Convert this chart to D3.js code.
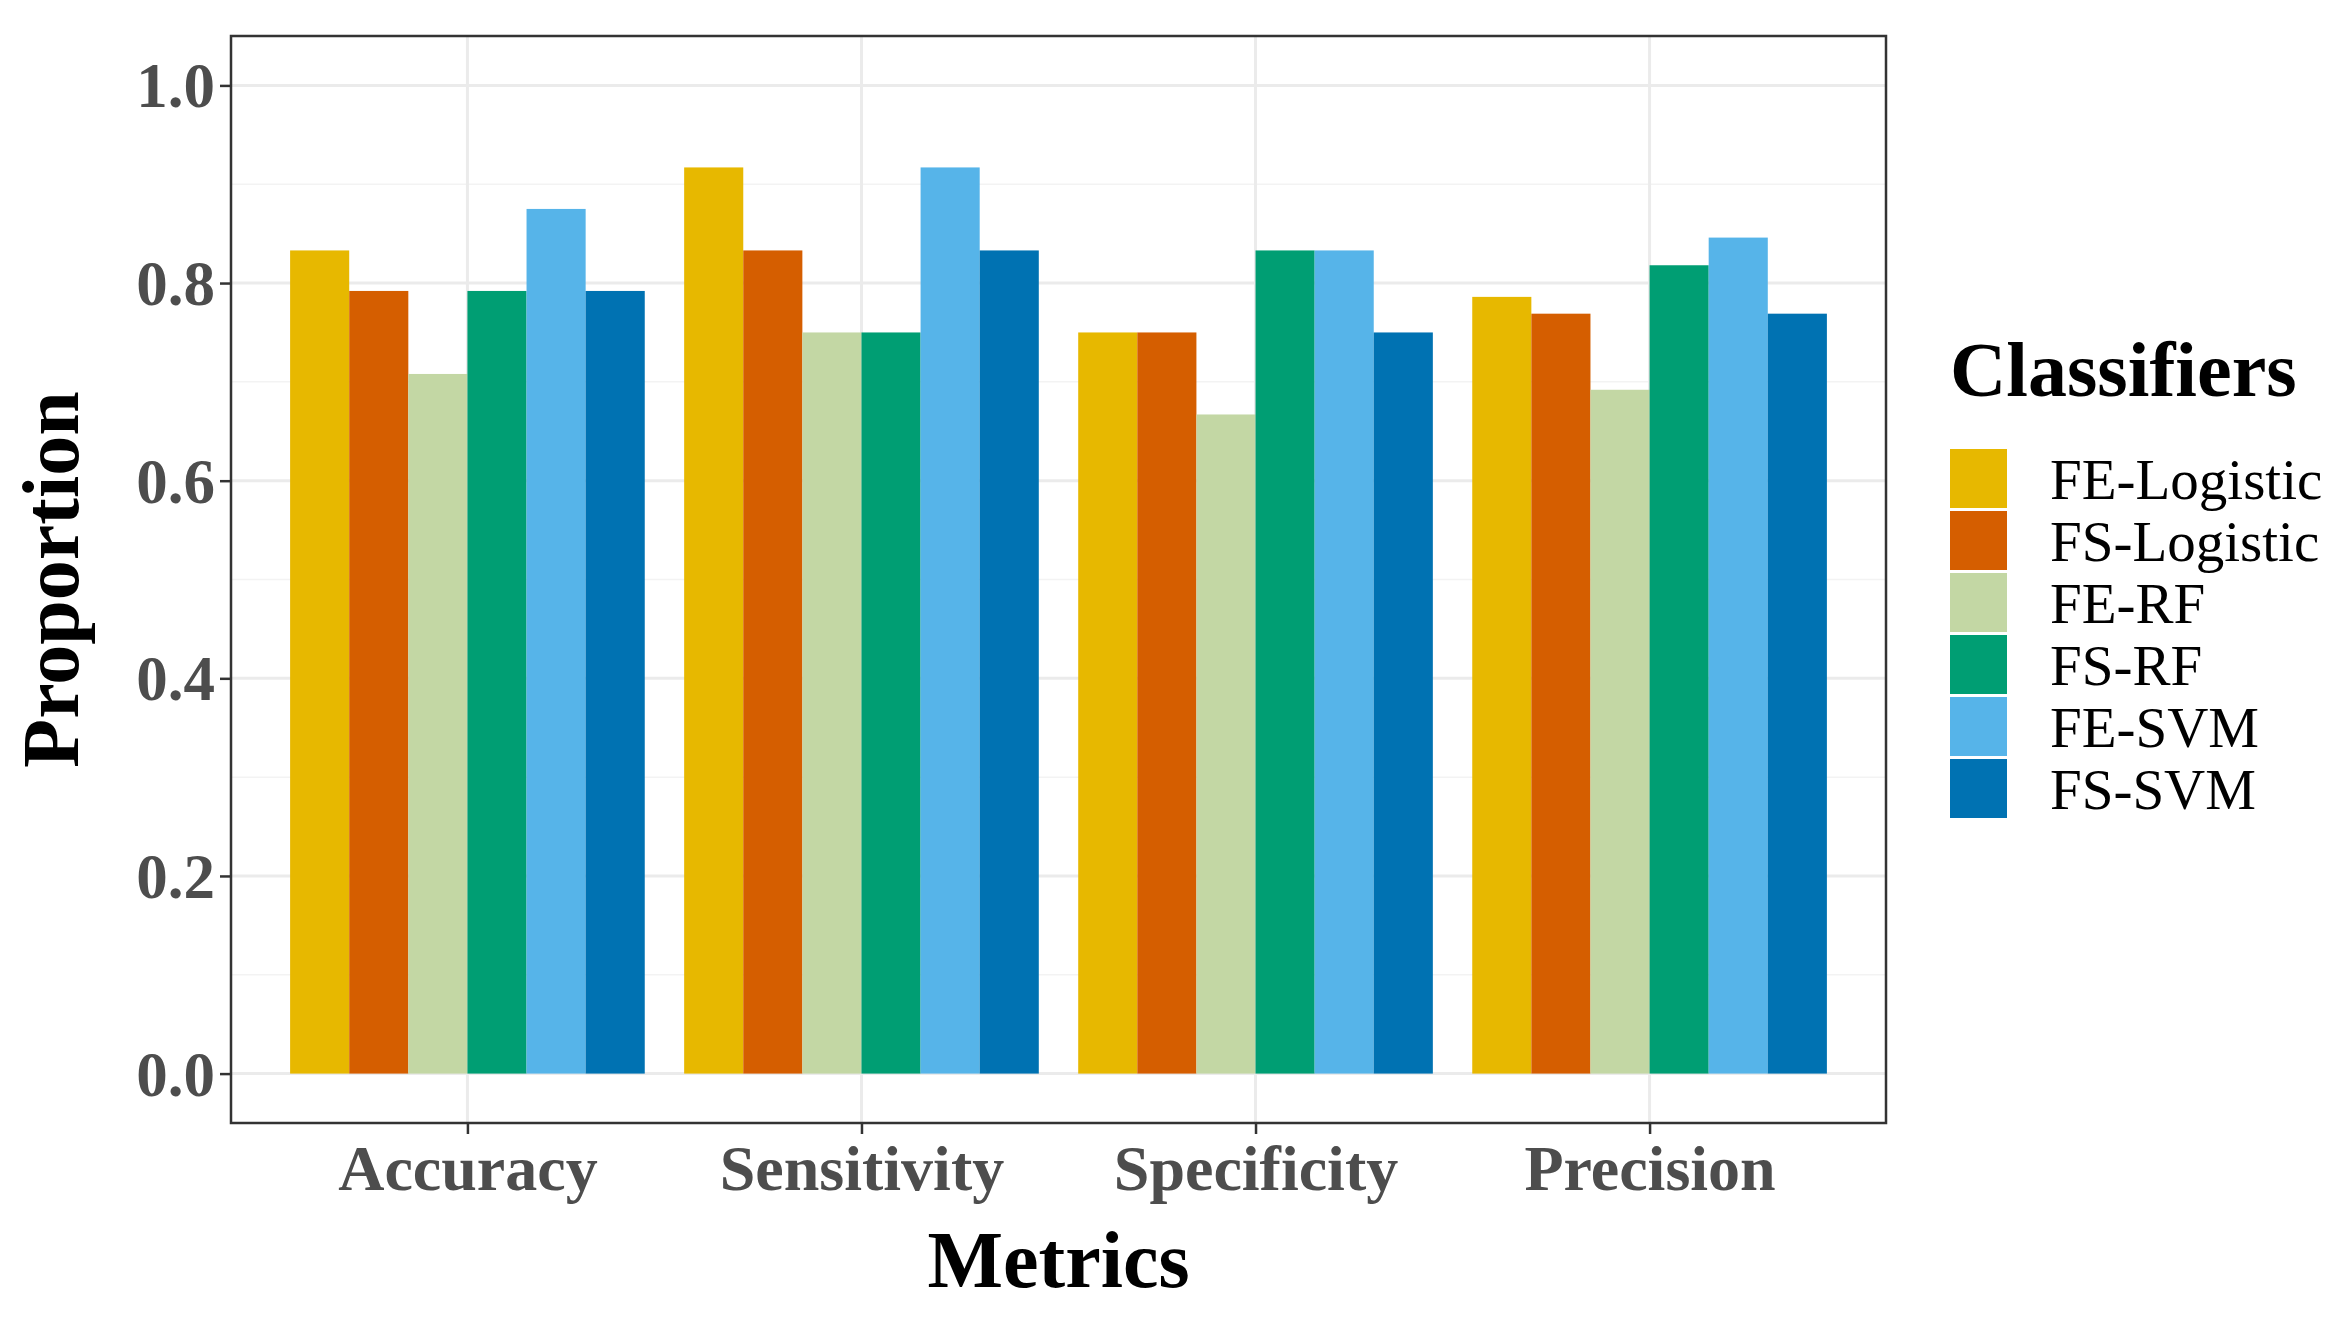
<!DOCTYPE html>
<html>
<head>
<meta charset="utf-8">
<script src="https://cdn.jsdelivr.net/npm/d3@7"></script>
<style>
  body { margin: 0; background: #fff; }
  text { font-family: "Liberation Serif", "Times New Roman", serif; }
</style>
</head>
<body>
<div class="container"></div>
<script>
const width = 2341;
const height = 1323;

const metrics = ['Accuracy', 'Sensitivity', 'Specificity', 'Precision'];
const classifiers = ['FE-Logistic', 'FS-Logistic', 'FE-RF', 'FS-RF', 'FE-SVM', 'FS-SVM'];
const colors = ['#E7B800', '#D55E00', '#C3D7A4', '#009E73', '#56B4E9', '#0072B2'];

// values per classifier, in metric order
const feLogistic = [0.833, 0.917, 0.750, 0.786];
const fsLogistic = [0.792, 0.833, 0.750, 0.769];
const feRF       = [0.708, 0.750, 0.667, 0.692];
const fsRF       = [0.792, 0.750, 0.833, 0.818];
const feSVM      = [0.875, 0.917, 0.833, 0.846];
const fsSVM      = [0.792, 0.833, 0.750, 0.769];

const yTicks = [0, 0.2, 0.4, 0.6, 0.8, 1.0];
const yMinor = [0.1, 0.3, 0.5, 0.7, 0.9];

const series = [feLogistic, fsLogistic, feRF, fsRF, feSVM, fsSVM];
const rows = [];
metrics.forEach((m, i) => {
    classifiers.forEach((c, j) => {
        rows.push({ metric: m, classifier: c, value: series[j][i] });
    })
})

const panel = { left: 231, right: 1886, top: 36, bottom: 1123 };

const svg = d3.select('.container')
            .append('svg')
            .attr('width', width)
            .attr('height', height)

// ggplot style: continuous expand 5%, discrete expand 0.6
const yScale = d3.scaleLinear()
                .domain([-0.05, 1.05])
                .range([panel.bottom, panel.top])

const unit = (panel.right - panel.left) / 4.2;
const xScale = d3.scalePoint()
                .domain(metrics)
                .range([panel.left + 0.6 * unit, panel.right - 0.6 * unit])

const inner = d3.scaleBand()
                .domain(classifiers)
                .range([-0.45 * unit, 0.45 * unit])
                .padding(0)

const color = d3.scaleOrdinal().domain(classifiers).range(colors)

// grid
const grid = svg.append('g')
grid.selectAll('.minor')
    .data(yMinor)
    .enter()
    .append('line')
    .attr('x1', panel.left).attr('x2', panel.right)
    .attr('y1', d => yScale(d)).attr('y2', d => yScale(d))
    .attr('stroke', '#F3F3F3')
    .attr('stroke-width', 1.5)

grid.selectAll('.major')
    .data(yTicks)
    .enter()
    .append('line')
    .attr('x1', panel.left).attr('x2', panel.right)
    .attr('y1', d => yScale(d)).attr('y2', d => yScale(d))
    .attr('stroke', '#EBEBEB')
    .attr('stroke-width', 3)

grid.selectAll('.vmajor')
    .data(metrics)
    .enter()
    .append('line')
    .attr('y1', panel.top).attr('y2', panel.bottom)
    .attr('x1', d => xScale(d)).attr('x2', d => xScale(d))
    .attr('stroke', '#EBEBEB')
    .attr('stroke-width', 3)

// bars
svg.append('g')
    .selectAll('rect')
    .data(rows)
    .enter()
    .append('rect')
    .attr('x', d => xScale(d.metric) + inner(d.classifier))
    .attr('width', inner.bandwidth())
    .attr('y', d => yScale(d.value))
    .attr('height', d => yScale(0) - yScale(d.value))
    .attr('fill', d => color(d.classifier))

// border
svg.append('rect')
    .attr('x', panel.left).attr('y', panel.top)
    .attr('width', panel.right - panel.left)
    .attr('height', panel.bottom - panel.top)
    .attr('fill', 'none')
    .attr('stroke', '#333333')
    .attr('stroke-width', 2.5)

// axes
const yAxis = svg.append('g')
    .attr('transform', `translate(${panel.left},0)`)
    .call(d3.axisLeft(yScale).tickValues(yTicks).tickFormat(d3.format('.1f')).tickSize(11).tickPadding(5))
yAxis.select('.domain').remove()
yAxis.selectAll('line').attr('stroke', '#333').attr('stroke-width', 2.5)
yAxis.selectAll('text')
    .attr('fill', '#4D4D4D')
    .attr('font-size', 63)
    .attr('font-weight', 'bold')
    .attr('dy', '0.34em')

const xAxis = svg.append('g')
    .attr('transform', `translate(0,${panel.bottom})`)
    .call(d3.axisBottom(xScale).tickSize(11).tickPadding(6))
xAxis.select('.domain').remove()
xAxis.selectAll('line').attr('stroke', '#333').attr('stroke-width', 2.5)
xAxis.selectAll('text')
    .attr('fill', '#4D4D4D')
    .attr('font-size', 64)
    .attr('font-weight', 'bold')
    .attr('dy', '0.78em')

// titles
svg.append('text')
    .attr('x', (panel.left + panel.right) / 2)
    .attr('y', 1287)
    .attr('text-anchor', 'middle')
    .attr('font-size', 80)
    .attr('font-weight', 'bold')
    .attr('fill', '#000')
    .text('Metrics')

svg.append('text')
    .attr('transform', `translate(78,${(panel.top + panel.bottom) / 2}) rotate(-90)`)
    .attr('text-anchor', 'middle')
    .attr('font-size', 80)
    .attr('font-weight', 'bold')
    .attr('fill', '#000')
    .text('Proportion')

// legend
const legend = svg.append('g').attr('transform', 'translate(1950,0)')
legend.append('text')
    .attr('x', 0).attr('y', 396)
    .attr('font-size', 78)
    .attr('font-weight', 'bold')
    .attr('fill', '#000')
    .text('Classifiers')

const keyH = 62;
const items = legend.selectAll('.item')
    .data(classifiers)
    .enter()
    .append('g')
    .attr('transform', (d, i) => `translate(0,${448 + i * keyH})`)

items.append('rect')
    .attr('x', 0).attr('y', 1)
    .attr('width', 57).attr('height', keyH - 3)
    .attr('fill', d => color(d))

items.append('text')
    .attr('x', 100).attr('y', keyH / 2)
    .attr('dy', '0.35em')
    .attr('font-size', 57)
    .attr('fill', '#000')
    .text(d => d)
</script>
</body>
</html>
